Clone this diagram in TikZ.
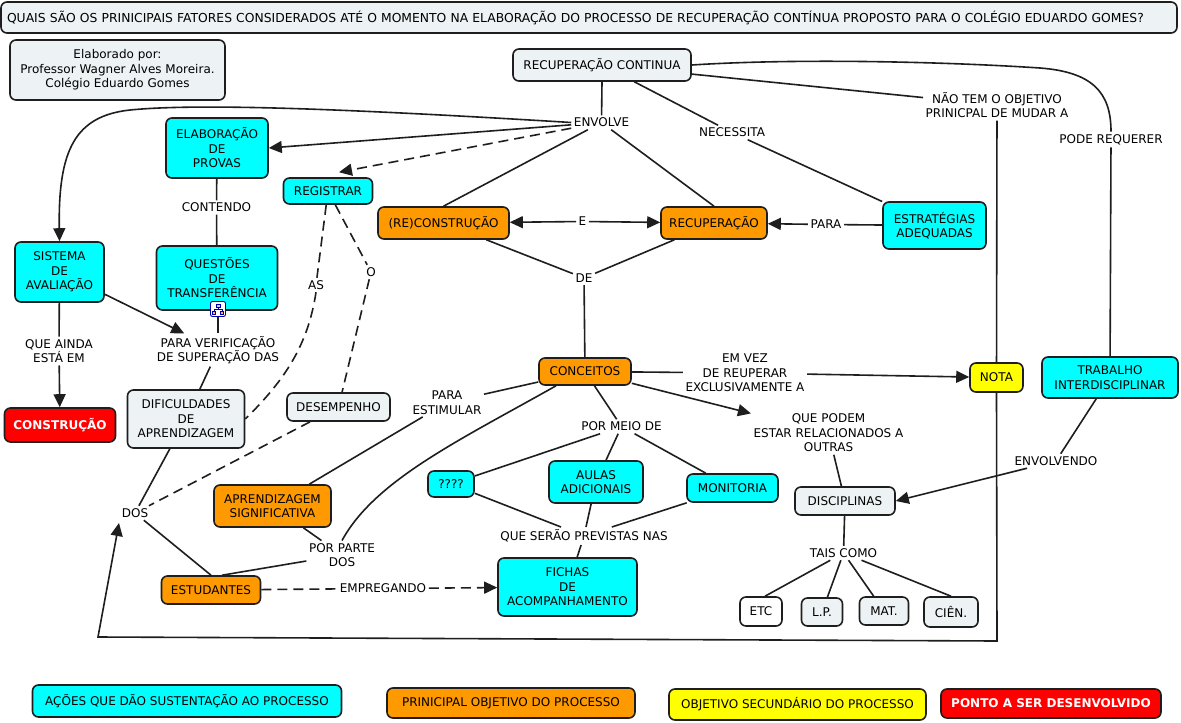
\documentclass[tikz,border=0pt]{standalone}
\usepackage{fontspec}
\setmainfont{DejaVu Sans}
\usetikzlibrary{arrows.meta,calc}
\definecolor{cyanC}{HTML}{00FFFF}
\definecolor{orangeC}{HTML}{FF9900}
\definecolor{grayC}{HTML}{EDF2F4}
\definecolor{yellowC}{HTML}{FFFF00}
\definecolor{redC}{HTML}{FF0000}
\definecolor{bord}{HTML}{1E1E1E}
\newcommand\cmfont{\fontsize{12}{14.5}\selectfont}
\tikzset{
  cbox/.style={draw=bord, line width=1.6pt, rounded corners=6pt, align=center, inner sep=0pt, font=\cmfont, text=black},
  cyanbox/.style={cbox, fill=cyanC},
  orangebox/.style={cbox, fill=orangeC},
  graybox/.style={cbox, fill=grayC},
  yellowbox/.style={cbox, fill=yellowC},
  whitebox/.style={cbox, fill=white},
  redbox/.style={cbox, fill=redC, text=white, font=\cmfont\bfseries},
  lbl/.style={align=center, inner sep=2.5pt, font=\cmfont, text=black},
  conn/.style={line width=1.6pt, draw=bord},
  arr/.style={conn, -{Triangle[length=13pt,width=12pt]}},
  dconn/.style={conn, dash pattern=on 10pt off 6pt},
  darr/.style={dconn, -{Triangle[length=13pt,width=12pt]}},
}
\begin{document}
\begin{tikzpicture}[x=1pt,y=-1pt]
\useasboundingbox (0,0) rectangle (1181,723);
\fill[white] (0,0) rectangle (1181,723);

% ---- concept boxes ----
\node[graybox, text width=1164pt, align=left, inner xsep=6pt, minimum height=31pt, font=\fontsize{12.35}{14.5}\selectfont] (title) at (589,17.5)
  {QUAIS SÃO OS PRINICIPAIS FATORES CONSIDERADOS ATÉ O MOMENTO NA ELABORAÇÃO DO PROCESSO DE RECUPERAÇÃO CONTÍNUA PROPOSTO PARA O COLÉGIO EDUARDO GOMES?};
\node[graybox, minimum width=215pt, minimum height=60pt] (autor) at (117.5,70) {Elaborado por:\\Professor Wagner Alves Moreira.\\Colégio Eduardo Gomes};
\node[graybox, minimum width=178pt, minimum height=32pt] (rc) at (602,65) {RECUPERAÇÃO CONTINUA};
\node[cyanbox, minimum width=102pt, minimum height=60pt] (elab) at (217,148) {ELABORAÇÃO\\DE\\PROVAS};
\node[cyanbox, minimum width=89pt, minimum height=26pt] (reg) at (328,191) {REGISTRAR};
\node[orangebox, minimum width=131pt, minimum height=32pt] (recon) at (443.5,223) {(RE)CONSTRUÇÃO};
\node[orangebox, minimum width=106pt, minimum height=32pt] (rec) at (714,223) {RECUPERAÇÃO};
\node[cyanbox, minimum width=103pt, minimum height=47pt] (estr) at (934.5,225.5) {ESTRATÉGIAS\\ADEQUADAS};
\node[cyanbox, minimum width=89pt, minimum height=60pt] (sis) at (59.5,272) {SISTEMA\\DE\\AVALIAÇÃO};
\node[cyanbox, minimum width=121pt, minimum height=64pt] (quest) at (217,278) {QUESTÕES\\DE\\TRANSFERÊNCIA};
\node[redbox, minimum width=111pt, minimum height=34pt] (constr) at (60,425) {CONSTRUÇÃO};
\node[graybox, minimum width=117pt, minimum height=58pt] (dif) at (186,419) {DIFICULDADES\\DE\\APRENDIZAGEM};
\node[graybox, minimum width=103pt, minimum height=28pt] (des) at (338.5,407) {DESEMPENHO};
\node[orangebox, minimum width=92pt, minimum height=27pt] (conc) at (585,371.5) {CONCEITOS};
\node[yellowbox, minimum width=53pt, minimum height=29pt] (nota) at (996.5,377.5) {NOTA};
\node[cyanbox, minimum width=136pt, minimum height=41pt] (trab) at (1110,377.5) {TRABALHO\\INTERDISCIPLINAR};
\node[cyanbox, minimum width=46pt, minimum height=26pt] (q4) at (451,484) {????};
\node[cyanbox, minimum width=94pt, minimum height=42pt] (aulas) at (596,482) {AULAS\\ADICIONAIS};
\node[cyanbox, minimum width=91pt, minimum height=28pt] (mon) at (732.5,488) {MONITORIA};
\node[orangebox, minimum width=117pt, minimum height=42pt] (apr) at (272.5,506) {APRENDIZAGEM\\SIGNIFICATIVA};
\node[graybox, minimum width=100pt, minimum height=28pt] (disc) at (845,501) {DISCIPLINAS};
\node[orangebox, minimum width=99pt, minimum height=28pt] (est) at (211,590) {ESTUDANTES};
\node[cyanbox, minimum width=139pt, minimum height=58pt] (fichas) at (567.5,587) {FICHAS\\DE\\ACOMPANHAMENTO};
\node[whitebox, minimum width=42pt, minimum height=29pt] (etc) at (761,611.5) {ETC};
\node[graybox, minimum width=41pt, minimum height=28pt] (lp) at (822,612) {L.P.};
\node[graybox, minimum width=49pt, minimum height=28pt] (mat) at (884,611) {MAT.};
\node[graybox, minimum width=54pt, minimum height=30pt] (cien) at (951,612) {CIÊN.};

% icon under QUESTOES
\node[draw=blue!65!black, fill=white, rounded corners=2pt, line width=0.9pt, minimum size=15pt, inner sep=0pt] (qicon) at (218,309) {};
\begin{scope}[shift={(qicon.center)}, line width=0.7pt]
  \draw[blue!70!black, fill=blue!20] (-2,-5) rectangle (2,-2);
  \draw[blue!70!black] (0,-2) -- (0,0) (-4,0) -- (4,0) (-4,0) -- (-4,2) (4,0) -- (4,2);
  \draw[blue!70!black, fill=orange!60] (-5.5,2) rectangle (-2.5,5);
  \draw[blue!70!black, fill=orange!60] (2.5,2) rectangle (5.5,5);
\end{scope}

% legend
\node[cyanbox, minimum width=309pt, minimum height=32pt] (legA) at (187,701) {AÇÕES QUE DÃO SUSTENTAÇÃO AO PROCESSO};
\node[orangebox, minimum width=248pt, minimum height=30pt] (legB) at (511,703) {PRINICIPAL OBJETIVO DO PROCESSO};
\node[yellowbox, minimum width=257pt, minimum height=31pt] (legC) at (797.5,704.5) {OBJETIVO SECUNDÁRIO DO PROCESSO};
\node[redbox, minimum width=220pt, minimum height=29pt] (legD) at (1051,703.5) {PONTO A SER DESENVOLVIDO};

% ---- linking phrases ----
\node[lbl] (lEnvolve) at (601.5,122.5) {ENVOLVE};
\node[lbl] (lNecessita) at (732,132.5) {NECESSITA};
\node[lbl] (lNaotem) at (997,105) {NÃO TEM O OBJETIVO\\PRINICPAL DE MUDAR A};
\node[lbl] (lPode) at (1111,139.5) {PODE REQUERER};
\node[lbl] (lContendo) at (216.5,207.5) {CONTENDO};
\node[lbl] (lE) at (582.5,221.5) {E};
\node[lbl] (lPara) at (826,224.5) {PARA};
\node[lbl] (lDe) at (584,278) {DE};
\node[lbl] (lAs) at (316,285) {AS};
\node[lbl] (lO) at (371,272) {O};
\node[lbl] (lQueainda) at (59,351) {QUE AINDA\\ESTÁ EM};
\node[lbl] (lParaver) at (218,350) {PARA VERIFICAÇÃO\\DE SUPERAÇÃO DAS};
\node[lbl] (lParaest) at (447,402.5) {PARA\\ESTIMULAR};
\node[lbl] (lEmvez) at (745,373) {EM VEZ\\DE REUPERAR\\EXCLUSIVAMENTE A};
\node[lbl] (lQuepodem) at (828.5,433) {QUE PODEM\\ESTAR RELACIONADOS A\\OUTRAS};
\node[lbl] (lPormeio) at (621.5,426.5) {POR MEIO DE};
\node[lbl] (lEnvolvendo) at (1056,461) {ENVOLVENDO};
\node[lbl] (lDos) at (135,513) {DOS};
\node[lbl] (lPorparte) at (342,555) {POR PARTE\\DOS};
\node[lbl] (lQueserao) at (584,536) {QUE SERÃO PREVISTAS NAS};
\node[lbl] (lTais) at (843.5,553) {TAIS COMO};
\node[lbl] (lEmpregando) at (383,588.5) {EMPREGANDO};

\coordinate (b1) at (997,641);
\coordinate (b2) at (98,637);
\coordinate (b3) at (119,523);

% ---- connectors ----
\draw[conn] (rc.south) -- (lEnvolve);
\draw[arr] (lEnvolve) -- (elab.east);
\draw[darr] (lEnvolve) -- ([xshift=11pt,yshift=5pt]reg.north);
\draw[conn] (lEnvolve) -- (recon.north);
\draw[conn] (lEnvolve) -- (rec.north);
\draw[arr] (lEnvolve.west) .. controls (350,109) and (200,103) .. (130,110) .. controls (75,116) and (58,150) .. (sis.north);
\draw[conn] (rc) -- (lNecessita);
\draw[conn] (lNecessita) -- (estr);
\draw[conn] (rc) -- (lNaotem);
\draw[conn] (lNaotem) -- (nota);
\draw[arr] (nota.south) -- (b1) -- (b2) -- (b3);
\draw[conn] (rc.east) .. controls (800,58) and (950,62) .. (1040,68) .. controls (1092,72) and (1111,92) .. (lPode.north);
\draw[conn] (lPode) -- (trab);
\draw[arr] (lE) -- (recon);
\draw[arr] (lE) -- (rec);
\draw[conn] (estr) -- (lPara);
\draw[arr] (lPara) -- (rec);
\draw[conn] (recon) -- (lDe);
\draw[conn] (rec) -- (lDe);
\draw[conn] (lDe) -- (conc);
\draw[conn] (elab) -- (lContendo);
\draw[conn] (lContendo) -- (quest);
\draw[conn] (qicon) -- (lParaver);
\draw[arr] (sis) -- (lParaver);
\draw[conn] (lParaver) -- (dif);
\draw[conn] (sis) -- (lQueainda);
\draw[arr] (lQueainda) -- (constr);
\draw[dconn] (reg) -- (lAs);
\draw[dconn] (lAs.south) .. controls (308,345) and (285,380) .. (dif.east);
\draw[dconn] (reg) -- (lO);
\draw[dconn] (lO) -- (des);
\draw[conn] (dif) -- (lDos);
\draw[conn] (lDos) -- (est.north);
\draw[dconn] (des) -- (lDos);
\draw[conn] (conc) -- (lParaest);
\draw[conn] (lParaest) -- (apr);
\draw[conn] ([xshift=-29pt]conc.south) .. controls (460,440) and (375,480) .. (lPorparte.north);
\draw[conn] (lPorparte) -- (apr);
\draw[conn] (lPorparte) -- ([xshift=11pt]est.north);
\draw[dconn] (est) -- (lEmpregando);
\draw[darr] (lEmpregando) -- (fichas);
\draw[conn] (conc) -- (lPormeio);
\draw[conn] (lPormeio) -- (q4);
\draw[conn] (lPormeio) -- (aulas);
\draw[conn] (lPormeio) -- (mon);
\draw[conn] (q4) -- (lQueserao);
\draw[conn] (aulas) -- (lQueserao);
\draw[conn] (mon) -- (lQueserao);
\draw[conn] (lQueserao) -- (fichas);
\draw[conn] (conc) -- (lEmvez);
\draw[arr] (lEmvez) -- (nota);
\draw[arr] (conc) -- (lQuepodem);
\draw[conn] (lQuepodem) -- (disc);
\draw[conn] (trab) -- (lEnvolvendo);
\draw[arr] (lEnvolvendo) -- (disc.east);
\draw[conn] (disc) -- (lTais);
\draw[conn] (lTais) -- ([xshift=4pt]etc.north);
\draw[conn] (lTais) -- (lp);
\draw[conn] (lTais) -- (mat);
\draw[conn] (lTais) -- (cien.north);
\end{tikzpicture}
\end{document}
